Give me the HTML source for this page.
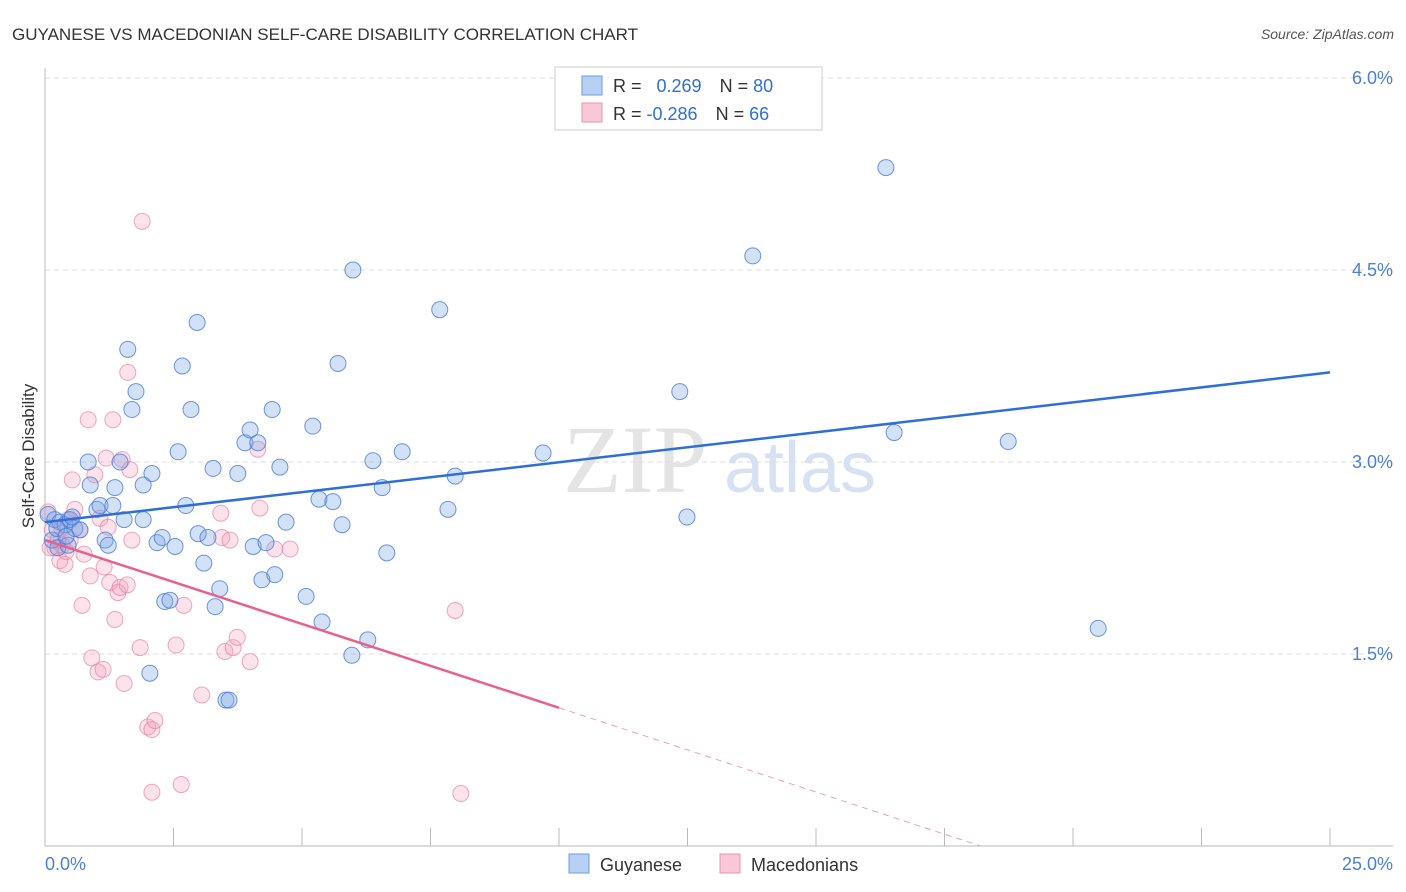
<!DOCTYPE html>
<html><head><meta charset="utf-8"><style>
body{margin:0;background:#fff;font-family:"Liberation Sans",sans-serif;}
svg{display:block}
</style></head><body>
<svg id="chart" width="1406" height="892" xmlns="http://www.w3.org/2000/svg">
<text x="12" y="40" font-size="17" fill="#333">GUYANESE VS MACEDONIAN SELF-CARE DISABILITY CORRELATION CHART</text>
<text x="1394" y="39" font-size="14" fill="#555" font-style="italic" text-anchor="end">Source: ZipAtlas.com</text>
<text x="635" y="492" font-size="96" fill="#e4e4e4" font-family="Liberation Serif,serif" text-anchor="middle">ZIP</text>
<text x="800" y="492" font-size="72" fill="#d6e2f3" text-anchor="middle">atlas</text>
<g id="grid"></g>
<g id="axes"></g>
<g id="points"></g>
<g id="trends"></g>
<text transform="translate(34,456) rotate(-90)" font-size="17" fill="#333" text-anchor="middle">Self-Care Disability</text>
<g>
<rect x="555" y="67" width="267" height="63" fill="#fff" stroke="#ccc"/>
<rect x="582" y="76" width="20" height="19" fill="#b8d1f3" stroke="#6d9be0"/>
<rect x="582" y="103" width="20" height="19" fill="#f9c8d6" stroke="#ea93ae"/>
<text x="613" y="92" font-size="18" fill="#333">R = <tspan fill="#2f6fd6" dx="10">0.269</tspan><tspan dx="18" fill="#333">N = </tspan><tspan fill="#2f6fd6">80</tspan></text>
<text x="613" y="120" font-size="18" fill="#333">R = <tspan fill="#2f6fd6">-0.286</tspan><tspan dx="18" fill="#333">N = </tspan><tspan fill="#2f6fd6">66</tspan></text>
</g>
<g>
<rect x="569" y="854" width="20" height="19" fill="#b8d1f3" stroke="#6d9be0"/>
<text x="600" y="871" font-size="18" fill="#333">Guyanese</text>
<rect x="720" y="854" width="20" height="19" fill="#f9c8d6" stroke="#ea93ae"/>
<text x="751" y="871" font-size="18" fill="#333">Macedonians</text>
</g>
</svg>
<script>
const yTicks=[1.5,3.0,4.5,6.0];
const yTickLabels=["1.5%","3.0%","4.5%","6.0%"];
const xTicks=[2.5,5,7.5,10,12.5,15,17.5,20,22.5,25];
const xEndLabels=["0.0%","25.0%"];
const guyX=[0.06,0.19,0.29,0.39,0.49,0.14,0.25,0.45,0.58,0.68,0.84,0.88,1.01,1.07,1.17,1.23,1.32,1.36,1.46,1.54,1.61,1.69,1.77,1.91,1.91,2.08,2.18,2.28,2.33,2.43,2.53,2.59,2.67,2.74,2.84,2.96,2.98,3.09,3.17,3.27,3.31,3.40,3.52,3.58,3.75,3.89,3.99,4.05,4.14,4.22,4.30,4.42,4.47,4.57,4.69,5.08,5.21,5.33,5.39,5.60,5.70,5.78,5.97,5.99,6.28,6.38,6.56,6.65,6.95,7.68,7.84,7.98,9.69,12.35,12.49,13.77,16.36,16.52,18.74,20.49,2.04,0.23,0.41,0.53];
const guyY=[2.59,2.55,2.53,2.51,2.55,2.39,2.33,2.35,2.48,2.47,3.00,2.82,2.63,2.66,2.39,2.35,2.66,2.80,3.00,2.55,3.88,3.41,3.55,2.82,2.55,2.91,2.37,2.41,1.91,1.92,2.34,3.08,3.75,2.66,3.41,4.09,2.44,2.21,2.41,2.95,1.87,2.01,1.14,1.14,2.91,3.15,3.25,2.34,3.15,2.08,2.37,3.41,2.12,2.96,2.53,1.95,3.28,2.71,1.75,2.69,3.77,2.51,1.49,4.50,1.61,3.01,2.80,2.29,3.08,4.19,2.63,2.89,3.07,3.55,2.57,4.61,5.30,3.23,3.16,1.70,1.35,2.48,2.42,2.57];
const macX=[0.06,0.14,0.19,0.29,0.33,0.39,0.45,0.53,0.58,0.68,0.72,0.76,0.84,0.88,0.91,0.97,1.03,1.07,1.13,1.15,1.19,1.23,1.26,1.32,1.36,1.42,1.46,1.50,1.54,1.60,1.61,1.65,1.69,1.85,1.89,2.00,2.08,2.08,2.14,2.55,2.65,2.70,3.05,3.42,3.44,3.50,3.60,3.66,3.74,3.99,4.14,4.18,4.47,4.77,7.98,8.09,0.49,0.10,0.25,0.33,0.41];
const macY=[2.61,2.47,2.33,2.23,2.35,2.20,2.55,2.86,2.63,2.47,1.88,2.28,3.33,2.11,1.47,2.90,1.36,2.56,1.38,2.18,3.03,2.49,2.06,3.33,1.77,1.98,2.02,3.02,1.27,2.04,3.70,2.94,2.39,1.55,4.88,0.93,0.91,0.42,0.98,1.57,0.48,1.88,1.18,2.60,2.41,1.52,2.39,1.55,1.63,1.44,3.10,2.64,2.32,2.32,1.84,0.41,2.39,2.33,2.39,2.48,2.30];
const guyTrend=[[0,2.53],[25,3.70]];
const macTrendSolid=[[0,2.39],[10,1.08]];
const macTrendDash=[[10,1.08],[18.2,0.0]];

const NS="http://www.w3.org/2000/svg";
const X0=45,X1=1330,Y0=846,PX_PER=128;
const sx=v=>X0+(v/25)*(X1-X0);
const sy=v=>Y0-v*PX_PER;
function mk(tag,attrs,parent){const e=document.createElementNS(NS,tag);for(const k in attrs)e.setAttribute(k,attrs[k]);parent.appendChild(e);return e;}
const grid=document.getElementById('grid'),axes=document.getElementById('axes'),pts=document.getElementById('points'),tr=document.getElementById('trends');
yTicks.forEach((t,i)=>{
  const l=mk('line',{x1:X0,x2:1393,y1:sy(t),y2:sy(t),stroke:'#ddd','stroke-dasharray':'5,4'},grid);
  
  
  const tx=mk('text',{x:1393,y:sy(t)+6,'font-size':18,fill:'#4a7fd6','text-anchor':'end'},grid);
  tx.textContent=yTickLabels[i];
  
  
});
const ya=mk('line',{x1:X0,x2:X0,y1:68,y2:Y0,stroke:'#bbb'},axes);


const xa=mk('line',{x1:X0,x2:1393,y1:Y0,y2:Y0,stroke:'#bbb'},axes);


xTicks.forEach(t=>{
  const l=mk('line',{x1:sx(t),x2:sx(t),y1:Y0-18,y2:Y0,stroke:'#bbb'},axes);
  
  
});
[[0,'start',X0],[1,'end',1393]].forEach(([i,a,x])=>{
  const tx=mk('text',{x:x,y:870,'font-size':18,fill:'#4a7fd6','text-anchor':a},axes);
  tx.textContent=xEndLabels[i];
  
  
});
macX.forEach((v,i)=>{
  const c=mk('circle',{cx:sx(v),cy:sy(macY[i]),r:8,fill:'rgba(244,160,188,0.3)',stroke:'rgba(232,130,165,0.7)','stroke-width':1},pts);
  
  
});
guyX.forEach((v,i)=>{
  const c=mk('circle',{cx:sx(v),cy:sy(guyY[i]),r:8,fill:'rgba(120,165,230,0.33)',stroke:'rgba(70,125,215,0.8)','stroke-width':1},pts);
  
  
});
const g1=mk('line',{x1:sx(guyTrend[0][0]),y1:sy(guyTrend[0][1]),x2:sx(guyTrend[1][0]),y2:sy(guyTrend[1][1]),stroke:'#2d6fd6','stroke-width':2.5},tr);


const m1=mk('line',{x1:sx(macTrendSolid[0][0]),y1:sy(macTrendSolid[0][1]),x2:sx(macTrendSolid[1][0]),y2:sy(macTrendSolid[1][1]),stroke:'#e8608e','stroke-width':2.5},tr);


const m2=mk('line',{x1:sx(macTrendDash[0][0]),y1:sy(macTrendDash[0][1]),x2:sx(macTrendDash[1][0]),y2:sy(macTrendDash[1][1]),stroke:'#e8a0b8','stroke-width':1,'stroke-dasharray':'6,5'},tr);


</script>
</body></html>
